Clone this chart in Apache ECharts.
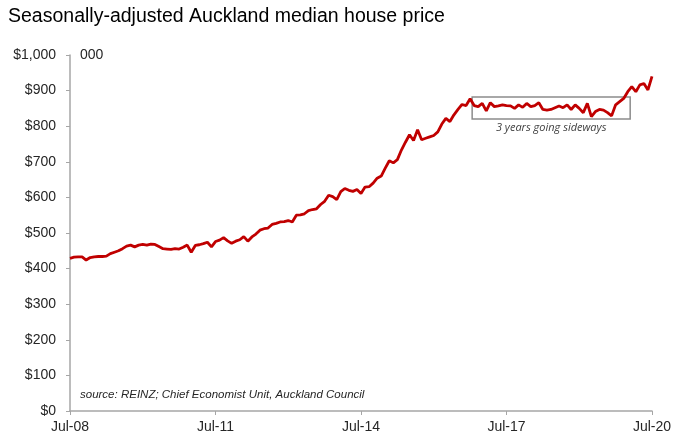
<!DOCTYPE html>
<html>
<head>
<meta charset="utf-8">
<style>
html, body {
  margin: 0;
  padding: 0;
  background-color: #FFF;
}
#chart {
  width: 678px;
  height: 435px;
}
</style>
<script src="https://cdn.jsdelivr.net/npm/echarts@6/dist/echarts.min.js"></script>
</head>
<body>
<div id="chart"></div>
<script>
// monthly index, Jul-08 .. Jul-20 ($000)
const prices = [
  429, 432, 433, 433, 424, 431, 433, 434, 434, 435, 442, 446,
  450, 456, 463, 466, 461, 466, 468, 466, 469, 468, 462, 456,
  455, 454, 456, 455, 460, 466, 446, 465, 467, 470, 474, 461,
  476, 480, 487, 478, 471, 477, 481, 490, 477, 489, 497, 508,
  512, 514, 524, 527, 531, 532, 535, 531, 550, 551, 554, 563,
  566, 568, 580, 589, 606, 602, 594, 616, 625, 620, 617, 622,
  611, 629, 630, 640, 654, 660, 682, 703, 697, 706, 733, 755,
  776, 760, 790, 762, 766, 770, 774, 784, 806, 822, 813, 832,
  847, 861, 858, 877, 858, 855, 864, 843, 866, 855, 857, 860,
  858, 857, 850, 860, 853, 864, 855, 858, 866, 847, 845, 847,
  852, 857, 852, 860, 847, 860, 850, 838, 864, 827, 841, 847,
  845, 838, 829, 860, 869, 878, 897, 911, 897, 916, 920, 902,
  940
]
const tickLabels = ['Jul-08', 'Jul-11', 'Jul-14', 'Jul-17', 'Jul-20']
const tickStep = 36
// "3 years going sideways" box: [month from, month to], [value from, value to]
const boxMonths = [99.5, 138.6]
const boxValues = [820, 882]

const chart = echarts.init(document.getElementById('chart'))

const textColor = '#262626'
const axisColor = '#A6A6A6'

const option = {
  animation: false,
  title: {
    text: 'Seasonally-adjusted Auckland median house price',
    left: 3,
    top: 2,
    textStyle: {
      fontFamily: 'Liberation Sans',
      fontSize: 19.5,
      fontWeight: 'normal',
      color: '#000'
    }
  },
  grid: {
    left: 70,
    right: 26,
    top: 55,
    bottom: 24
  },
  graphic: [
    {
      type: 'text',
      left: 80,
      top: 48,
      style: {
        text: '000',
        fontFamily: 'Liberation Sans',
        fontSize: 14,
        fill: textColor
      }
    },
    {
      type: 'text',
      left: 80,
      top: 389,
      style: {
        text: 'source: REINZ; Chief Economist Unit, Auckland Council',
        fontFamily: 'Liberation Sans',
        fontStyle: 'italic',
        fontSize: 11.5,
        fill: textColor
      }
    }
  ],
  xAxis: {
    type: 'value',
    min: 0,
    max: 144,
    interval: tickStep,
    splitLine: { show: false },
    axisLine: { lineStyle: { color: axisColor, width: 1.5 } },
    axisTick: { length: 4, lineStyle: { color: axisColor } },
    axisLabel: {
      margin: 9,
      fontFamily: 'Liberation Sans',
      fontSize: 14,
      color: textColor,
      formatter: v => tickLabels[Math.round(v / tickStep)]
    }
  },
  yAxis: {
    type: 'value',
    min: 0,
    max: 1000,
    interval: 100,
    splitLine: { show: false },
    axisLine: { show: true, lineStyle: { color: axisColor, width: 1.5 } },
    axisTick: { show: true, length: 4, lineStyle: { color: axisColor } },
    axisLabel: {
      margin: 14,
      fontFamily: 'Liberation Sans',
      fontSize: 14,
      color: textColor,
      formatter: v => '$' + v.toLocaleString('en-US')
    }
  },
  series: [
    {
      type: 'line',
      data: prices.map((v, i) => [i, v]),
      symbol: 'none',
      lineStyle: { color: '#C00000', width: 2.8 },
      markArea: {
        silent: true,
        itemStyle: {
          color: 'rgba(0,0,0,0)',
          borderColor: '#8C8C8C',
          borderWidth: 1.5
        },
        label: {
          show: true,
          position: 'bottom',
          distance: 3,
          formatter: '3 years going sideways',
          fontFamily: 'Open Sans',
          fontStyle: 'italic',
          fontSize: 11,
          color: '#404040'
        },
        data: [[
          { xAxis: boxMonths[0], yAxis: boxValues[1] },
          { xAxis: boxMonths[1], yAxis: boxValues[0] }
        ]]
      }
    }
  ]
}

chart.setOption(option)
</script>
</body>
</html>
